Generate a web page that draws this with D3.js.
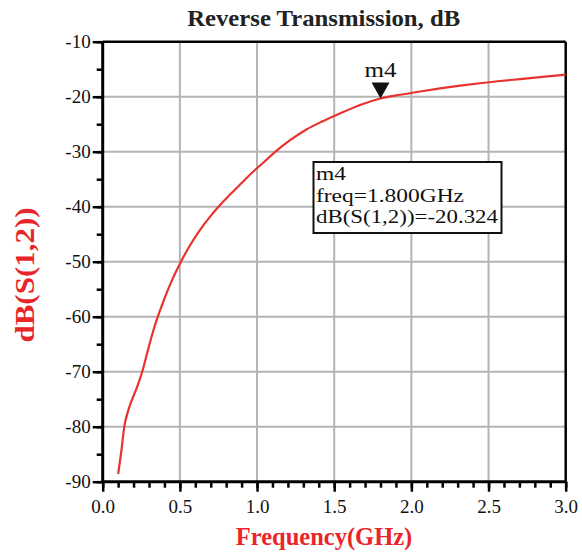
<!DOCTYPE html>
<html>
<head>
<meta charset="utf-8">
<script src="https://cdn.jsdelivr.net/npm/d3@7"></script>
<style>
  body { margin: 0; background: #fff; }
  text { font-family: "Liberation Serif", "Times New Roman", serif; }
</style>
</head>
<body>
<div id="chart"></div>
<script>
// data
var freqGHz = [0.10, 0.12, 0.14, 0.166, 0.22, 0.256, 0.29, 0.323, 0.357, 0.40,
  0.45, 0.507, 0.566, 0.631, 0.696, 0.75, 0.825, 0.90, 0.976, 1.04, 1.11,
  1.214, 1.32, 1.43, 1.54, 1.668, 1.80, 1.927, 2.057, 2.186, 2.316,
  2.445, 2.575, 2.705, 2.834, 3.0];
var s12dB = [-88.6, -84.6, -80.0, -77.0, -73.0, -70.0, -66.4, -63.0, -60.0, -56.7,
  -53.3, -50.0, -47.0, -44.2, -41.8, -40.0, -37.8, -35.7, -33.6, -32.0, -30.2,
  -27.9, -25.95, -24.4, -23.0, -21.5, -20.324, -19.65, -19.05, -18.5, -18.0,
  -17.55, -17.15, -16.8, -16.45, -16.0];

var xTicks = [0.0, 0.5, 1.0, 1.5, 2.0, 2.5, 3.0];
var yTicks = [-10, -20, -30, -40, -50, -60, -70, -80, -90];
var markerFreq = 1.8;
var markerVal = -20.324;
var markerLines = ["m4", "freq=1.800GHz", "dB(S(1,2))=-20.324"];

var svgWidth = 582;
var svgHeight = 555;

var svg = d3.select("#chart")
  .append("svg")
  .attr("width", svgWidth)
  .attr("height", svgHeight);

var x = d3.scaleLinear().domain([0, 3]).range([102.7, 565.7]);
var y = d3.scaleLinear().domain([-90, -10]).range([481.7, 41.7]);

// grid
svg.append("g")
  .selectAll("line")
  .data(xTicks.slice(1, -1))
  .enter().append("line")
  .attr("x1", d => x(d)).attr("x2", d => x(d))
  .attr("y1", y(-10)).attr("y2", y(-90))
  .attr("stroke", "#b4b4b4").attr("stroke-width", 2);

svg.append("g")
  .selectAll("line")
  .data(yTicks.slice(1, -1))
  .enter().append("line")
  .attr("x1", x(0)).attr("x2", x(3))
  .attr("y1", d => y(d)).attr("y2", d => y(d))
  .attr("stroke", "#b4b4b4").attr("stroke-width", 2);

// axes (minor + major ticks)
var bottomMinor = d3.axisBottom(x).tickValues(d3.range(0, 3.001, 0.1)).tickSize(6).tickFormat("");
var bottomMajor = d3.axisBottom(x).tickValues(xTicks).tickSize(10).tickPadding(8)
  .tickFormat(d3.format(".1f"));
var leftMinor = d3.axisLeft(y).tickValues(d3.range(-90, -9, 5)).tickSize(6).tickFormat("");
var leftMajor = d3.axisLeft(y).tickValues(yTicks).tickSize(10).tickPadding(2)
  .tickFormat(d => String(d));

function styleAxis(g) {
  g.select(".domain").remove();
  g.selectAll(".tick line").attr("stroke", "#000").attr("stroke-width", 2.5);
  g.selectAll("text").attr("font-size", 19).attr("fill", "#111")
    .style("font-family", "'Liberation Serif', serif");
}

svg.append("g").attr("transform", `translate(0, ${y(-90)})`).call(bottomMinor).call(styleAxis);
svg.append("g").attr("transform", `translate(0, ${y(-90)})`).call(bottomMajor).call(styleAxis);
svg.append("g").attr("transform", `translate(${x(0)}, 0)`).call(leftMinor).call(styleAxis);
svg.append("g").attr("transform", `translate(${x(0)}, 0)`).call(leftMajor).call(styleAxis);

// frame
svg.append("line").attr("x1", x(0)).attr("x2", x(3)).attr("y1", y(-10)).attr("y2", y(-10))
  .attr("stroke", "#000").attr("stroke-width", 2.5);
svg.append("line").attr("x1", x(3)).attr("x2", x(3)).attr("y1", y(-10)).attr("y2", y(-90))
  .attr("stroke", "#000").attr("stroke-width", 2.5);
svg.append("line").attr("x1", x(0)).attr("x2", x(3)).attr("y1", y(-90)).attr("y2", y(-90))
  .attr("stroke", "#000").attr("stroke-width", 3);
svg.append("line").attr("x1", x(0)).attr("x2", x(0)).attr("y1", y(-10)).attr("y2", y(-90))
  .attr("stroke", "#000").attr("stroke-width", 3);

// curve
var line = d3.line()
  .x((d, i) => x(freqGHz[i]))
  .y(d => y(d))
  .curve(d3.curveMonotoneX);

svg.append("path")
  .datum(s12dB)
  .attr("d", line)
  .attr("fill", "none")
  .attr("stroke", "#e8322f")
  .attr("stroke-width", 2.2);

// marker
var mx = x(markerFreq), my = y(markerVal);
svg.append("path")
  .attr("d", `M${mx},${my} L${mx - 9},${my - 16} L${mx + 9},${my - 16} Z`)
  .attr("fill", "#111");
svg.append("text")
  .attr("x", mx).attr("y", my - 21)
  .attr("text-anchor", "middle")
  .attr("font-size", 20)
  .attr("textLength", 32).attr("lengthAdjust", "spacingAndGlyphs")
  .attr("fill", "#111")
  .text("m4");

// marker readout box
svg.append("rect")
  .attr("x", 313.5).attr("y", 162)
  .attr("width", 188).attr("height", 71)
  .attr("fill", "#fff")
  .attr("stroke", "#111").attr("stroke-width", 2);

var boxWidths = [30, 148, 182];
svg.append("g")
  .selectAll("text")
  .data(markerLines)
  .enter().append("text")
  .attr("x", 316)
  .attr("y", (d, i) => 180 + i * 21.6)
  .attr("font-size", 19)
  .attr("textLength", (d, i) => boxWidths[i])
  .attr("lengthAdjust", "spacingAndGlyphs")
  .attr("fill", "#111")
  .text(d => d);

// titles
svg.append("text")
  .attr("x", 323.7).attr("y", 26)
  .attr("text-anchor", "middle")
  .attr("font-size", 24).attr("font-weight", "bold")
  .attr("textLength", 273).attr("lengthAdjust", "spacingAndGlyphs")
  .attr("fill", "#222")
  .text("Reverse Transmission, dB");

svg.append("text")
  .attr("x", 324).attr("y", 545)
  .attr("text-anchor", "middle")
  .attr("font-size", 24.5).attr("font-weight", "bold")
  .attr("fill", "#e8262a")
  .text("Frequency(GHz)");

svg.append("text")
  .attr("transform", "translate(34, 275) rotate(-90)")
  .attr("text-anchor", "middle")
  .attr("font-size", 28).attr("font-weight", "bold")
  .attr("textLength", 135).attr("lengthAdjust", "spacingAndGlyphs")
  .attr("fill", "#e8262a")
  .text("dB(S(1,2))");
</script>
</body>
</html>
